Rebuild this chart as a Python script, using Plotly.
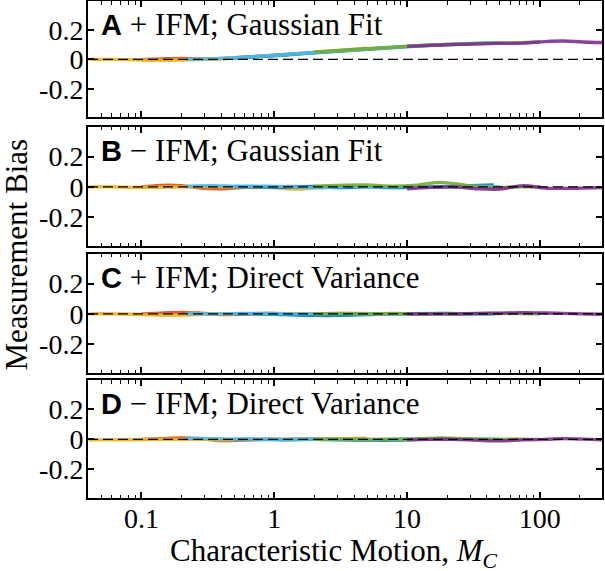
import plotly.graph_objects as go
from plotly.subplots import make_subplots

# ---------------- data ----------------
series_names = ["orange", "yellow", "blue", "cyan", "green", "purple"]
series_colors = ["#D95319", "#EDB120", "#0072BD", "#4DBEEE", "#77AC30", "#7E2F8E"]

orange_x = [0.1, 0.14, 0.2, 0.28, 0.4, 0.6, 0.9, 1.3, 2.0]
yellow_x = [0.04, 0.06, 0.09, 0.13, 0.2, 0.3, 0.45, 0.7, 1.0, 1.5, 2.2, 3.3, 5.0]
blue_x = [0.5, 0.8, 1.2, 2.0, 3.0, 5.0, 8.0, 12, 20, 30, 45]
cyan_x = [0.22, 0.35, 0.55, 0.9, 1.4, 2.2, 3.5, 5.5, 9, 14, 22, 35, 50]
green_x = [2.0, 3.0, 5.0, 8.0, 12, 18, 28, 45, 70, 100]
purple_x = [10, 15, 22, 33, 50, 75, 110, 150, 210, 300]

# Panel A: + IFM; Gaussian Fit
A_orange = [-0.002, 0.003, 0.006, 0.002, 0.005, 0.015, 0.025, 0.035, 0.047]
A_yellow = [0.0, 0.0, -0.003, -0.006, -0.004, 0.0, 0.008, 0.018, 0.027, 0.038, 0.05, 0.062, 0.075]
A_blue = [0.01, 0.02, 0.03, 0.045, 0.055, 0.068, 0.08, 0.09, 0.1, 0.105, 0.11]
A_cyan = [0.0, 0.005, 0.013, 0.025, 0.036, 0.048, 0.06, 0.072, 0.085, 0.095, 0.104, 0.11, 0.112]
A_green = [0.05, 0.06, 0.072, 0.083, 0.093, 0.1, 0.105, 0.11, 0.113, 0.118]
A_purple = [0.088, 0.095, 0.1, 0.105, 0.108, 0.11, 0.12, 0.124, 0.118, 0.114]

# Panel B: - IFM; Gaussian Fit
B_orange = [0.0, 0.01, 0.008, -0.008, -0.012, -0.003, 0.0, 0.003, 0.0]
B_yellow = [0.0, 0.0, -0.003, -0.002, 0.0, 0.003, 0.0, 0.002, -0.005, -0.015, -0.005, 0.003, 0.005]
B_blue = [0.003, 0.0, -0.003, 0.003, -0.005, 0.0, -0.005, 0.0, 0.003, 0.008, 0.012]
B_cyan = [0.005, 0.008, 0.003, 0.005, 0.0, -0.005, 0.003, 0.0, 0.002, 0.003, -0.002, 0.005, 0.0]
B_green = [0.005, 0.01, 0.012, 0.005, 0.012, 0.03, 0.01, -0.005, 0.0, 0.0]
B_purple = [-0.012, -0.003, 0.0, -0.012, -0.015, 0.008, -0.008, -0.01, -0.008, -0.005]

# Panel C: + IFM; Direct Variance
C_orange = [0.0, 0.005, 0.01, 0.005, -0.005, 0.0, 0.002, 0.0, 0.0]
C_yellow = [0.0, 0.0, -0.003, -0.008, -0.008, -0.003, 0.0, 0.0, 0.002, 0.0, 0.0, 0.003, 0.002]
C_blue = [0.0, 0.0, -0.005, -0.01, -0.01, -0.005, 0.0, 0.0, 0.002, 0.0, 0.0]
C_cyan = [0.002, 0.0, 0.003, 0.002, 0.0, 0.0, 0.002, 0.0, 0.0, 0.002, 0.0, 0.0, 0.002]
C_green = [0.0, 0.003, 0.0, 0.002, 0.0, 0.003, 0.0, 0.003, 0.002, 0.0]
C_purple = [0.0, 0.0, 0.0, 0.003, 0.005, 0.008, 0.006, 0.003, 0.0, -0.003]

# Panel D: - IFM; Direct Variance
D_orange = [0.0, 0.005, 0.01, 0.005, -0.008, -0.005, 0.0, 0.0, 0.0]
D_yellow = [-0.003, -0.003, -0.002, 0.0, 0.0, 0.0, -0.002, 0.0, 0.0, 0.002, 0.003, 0.005, 0.008]
D_blue = [0.0, 0.0, -0.002, 0.0, -0.003, -0.005, -0.005, 0.0, 0.002, 0.0, 0.0]
D_cyan = [0.008, 0.005, 0.002, 0.0, 0.0, 0.002, 0.0, 0.0, 0.003, 0.002, 0.0, 0.0, 0.002]
D_green = [0.0, 0.002, 0.0, 0.0, 0.003, 0.01, 0.003, 0.0, 0.002, 0.0]
D_purple = [-0.003, 0.0, 0.0, -0.005, -0.01, -0.003, 0.0, 0.005, 0.002, -0.003]

panel_labels = ["A", "B", "C", "D"]
panel_texts = ["+ IFM; Gaussian Fit", "\u2212 IFM; Gaussian Fit",
               "+ IFM; Direct Variance", "\u2212 IFM; Direct Variance"]
y_tickvals = [-0.2, 0, 0.2]
y_ticktext = ["-0.2", "0", "0.2"]
x_tickvals = [0.1, 1, 10, 100]
x_ticktext = ["0.1", "1", "10", "100"]

xs = [orange_x, yellow_x, blue_x, cyan_x, green_x, purple_x]
panels = [
    [A_orange, A_yellow, A_blue, A_cyan, A_green, A_purple],
    [B_orange, B_yellow, B_blue, B_cyan, B_green, B_purple],
    [C_orange, C_yellow, C_blue, C_cyan, C_green, C_purple],
    [D_orange, D_yellow, D_blue, D_cyan, D_green, D_purple],
]

# ---------------- figure ----------------
SERIF = "Liberation Serif, Times New Roman, serif"
fig = make_subplots(rows=4, cols=1, shared_xaxes=True, vertical_spacing=0.02)

for r, ys in enumerate(panels, start=1):
    for name, col, x, y in zip(series_names, series_colors, xs, ys):
        fig.add_trace(go.Scatter(x=x, y=y, mode="lines", name=name,
                                 line=dict(color=col, width=3.4, shape="spline"),
                                 opacity=0.9, showlegend=False), row=r, col=1)

domains = [[0.7666, 1.0], [0.507, 0.7465], [0.2515, 0.491], [0.0, 0.2374]]
minor_vals = [m * d for d in [0.01, 0.1, 1, 10, 100] for m in range(2, 10)]

for i in range(4):
    sfx = "" if i == 0 else str(i + 1)
    fig.layout["yaxis" + sfx].update(
        domain=domains[i], range=[-0.39, 0.395], automargin=False,
        tickvals=y_tickvals, ticktext=y_ticktext,
        ticks="inside", ticklen=6, tickwidth=1.5, tickcolor="black",
        showline=True, linewidth=2, linecolor="black", mirror="ticks",
        showgrid=False, zeroline=False, ticklabelstandoff=-3,
        tickfont=dict(family=SERIF, size=28, color="black"))
    fig.layout["xaxis" + sfx].update(
        type="log", range=[-1.402, 2.468], automargin=False,
        tickvals=x_tickvals, ticktext=x_ticktext,
        ticks="inside", ticklen=6, tickwidth=1.5, tickcolor="black",
        minor=dict(tickvals=minor_vals, ticks="inside", ticklen=3.5,
                   tickwidth=1.2, tickcolor="black", showgrid=False),
        showline=True, linewidth=2, linecolor="black", mirror="ticks",
        showgrid=False, zeroline=False, ticklabelstandoff=-6,
        showticklabels=(i == 3),
        tickfont=dict(family=SERIF, size=28, color="black"))
    xr = "x" + sfx
    yr = "y" + sfx
    fig.add_shape(type="line", xref=xr + " domain", yref=yr, x0=0, x1=1, y0=0, y1=0,
                  line=dict(color="black", width=1.4, dash="10px,5px"))
    fig.add_annotation(
        xref=xr + " domain", yref=yr + " domain", x=0.022, y=0.80,
        xanchor="left", yanchor="middle", showarrow=False,
        text=("<span style='font-family:Liberation Sans, Arial, sans-serif;"
              "font-weight:bold;font-size:29px'>" + panel_labels[i] + "</span> "
              + panel_texts[i]),
        font=dict(family=SERIF, size=31, color="black"))

# x-axis title (as annotation for precise placement)
fig.add_annotation(xref="paper", yref="paper", x=0.478, y=-0.11,
                   xanchor="center", yanchor="middle", showarrow=False,
                   text="Characteristic Motion, <i>M</i><sub><i>C</i></sub>",
                   font=dict(family=SERIF, size=31, color="black"))

fig.add_annotation(xref="paper", yref="paper", x=-0.14, y=0.49, textangle=-90,
                   xanchor="center", yanchor="middle", showarrow=False,
                   text="Measurement Bias",
                   font=dict(family=SERIF, size=31, color="black"))

fig.update_layout(width=605, height=571, margin=dict(l=88, r=3, t=1, b=73),
                  paper_bgcolor="white", plot_bgcolor="white")

fig.write_html("out.html", config={"displayModeBar": False},
               post_script="document.body.style.margin='0';document.body.style.padding='0';")
